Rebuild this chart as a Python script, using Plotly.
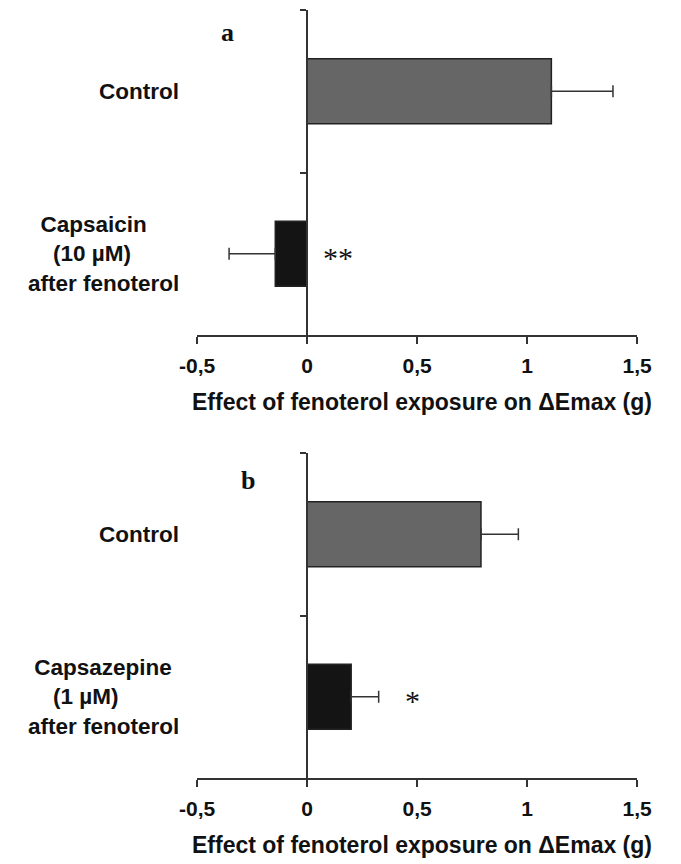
import plotly.graph_objects as go

# ---------------- data ----------------
panel_letters = ["a", "b"]
a_categories = ["Control", "Capsaicin<br>(10 µM)<br>after fenoterol"]
a_values = [1.11, -0.145]
a_errors = [0.28, 0.21]
a_colors = ["#666666", "#141414"]

b_categories = ["Control", "Capsazepine<br>(1 µM)<br>after fenoterol"]
b_values = [0.79, 0.20]
b_errors = [0.17, 0.125]
b_colors = ["#666666", "#141414"]

sig_marks = ["**", "*"]
sig_x = [0.14, 0.48]

x_tickvals = [-0.5, 0, 0.5, 1, 1.5]
x_ticktext = ["-0,5", "0", "0,5", "1", "1,5"]
x_title = "Effect of fenoterol exposure on \u0394Emax (g)"

# ---------------- styling / geometry ----------------
W, H = 681, 864
x_dom = [188.3 / W, 650.7 / W]
x_range = [-0.5, 1.5]
zero_pos = x_dom[0] + (0 - x_range[0]) / (x_range[1] - x_range[0]) * (x_dom[1] - x_dom[0])
panels_px = [(10, 335), (453, 778)]  # top, bottom of plot area in pixels
y_doms = [[1 - b / H, 1 - t / H] for (t, b) in panels_px]
# leading-space indentation of each label line (as in the original figure)
line_indent = [[[0], [2, 4, 0]], [[0], [1, 4, 0]]]

AX = "#333333"
SANS = "Liberation Sans"
NB = "\u00a0"


def indented(label, indents):
    lines = label.split("<br>")
    return "<br>".join(NB * n + ln for ln, n in zip(lines, indents))


fig = go.Figure()

panels = [
    (a_categories, a_values, a_errors, a_colors),
    (b_categories, b_values, b_errors, b_colors),
]

annotations = []
for i, (cats, vals, errs, cols) in enumerate(panels):
    xa = "x" if i == 0 else "x2"
    ya = "y" if i == 0 else "y2"
    plus = [e if v >= 0 else float("nan") for v, e in zip(vals, errs)]
    minus = [e if v < 0 else float("nan") for v, e in zip(vals, errs)]
    fig.add_trace(go.Bar(
        x=vals, y=cats, orientation="h", width=0.4,
        marker=dict(color=cols, line=dict(color="#222222", width=1.5)),
        error_x=dict(type="data", symmetric=False, array=plus, arrayminus=minus,
                     color="#333333", thickness=1.5, width=6),
        xaxis=xa, yaxis=ya, showlegend=False, hoverinfo="skip",
    ))
    # category labels
    for k, c in enumerate(cats):
        annotations.append(dict(
            text=indented(c, line_indent[i][k]), xref="paper", yref=ya, x=171 / W, y=c,
            xanchor="right", yanchor="middle", align="left", showarrow=False,
            font=dict(family=SANS, size=22.5, color="#111111", weight="bold"),
        ))
    # significance marks
    annotations.append(dict(
        text=sig_marks[i], xref=xa, yref=ya, x=sig_x[i], y=cats[1],
        xanchor="center", yanchor="middle", showarrow=False, yshift=-4,
        font=dict(family="Liberation Serif", size=30, color="#111111"),
    ))
    # panel letter
    annotations.append(dict(
        text=panel_letters[i], xref="paper", yref="paper",
        x=(220 if i == 0 else 242) / W, y=1 - (33 if i == 0 else 480) / H,
        xanchor="center", yanchor="middle", showarrow=False,
        font=dict(family="Liberation Serif", size=26, color="#111111", weight="bold"),
    ))
    # x title
    annotations.append(dict(
        text=x_title, xref="paper", yref="paper",
        x=425 / W, y=1 - (panels_px[i][1] + 67) / H,
        xanchor="center", yanchor="middle", showarrow=False,
        font=dict(family=SANS, size=23, color="#111111", weight="bold"),
    ))

xaxis_common = dict(
    range=x_range, domain=x_dom, tickvals=x_tickvals, ticktext=x_ticktext,
    ticks="outside", ticklen=7, tickwidth=1.5, tickcolor=AX,
    showline=True, linecolor=AX, linewidth=1.5, showgrid=False, zeroline=False,
    tickfont=dict(family=SANS, size=21, color="#111111", weight="bold"),
    ticklabelstandoff=4, fixedrange=True,
)
yaxis_common = dict(
    type="category", autorange="reversed", tickson="boundaries",
    ticks="outside", ticklen=6, tickwidth=1.5, tickcolor=AX,
    showticklabels=False, showline=True, linecolor=AX, linewidth=1.5,
    showgrid=False, zeroline=False, anchor="free", position=zero_pos,
    fixedrange=True,
)

fig.update_layout(
    width=W, height=H, margin=dict(l=0, r=0, t=0, b=0),
    paper_bgcolor="white", plot_bgcolor="white",
    xaxis=dict(**xaxis_common, anchor="y"),
    xaxis2=dict(**xaxis_common, anchor="y2"),
    yaxis=dict(**yaxis_common, domain=y_doms[0]),
    yaxis2=dict(**yaxis_common, domain=y_doms[1]),
    annotations=annotations,
    bargap=0.6,
)

fig.write_html("out.html")
